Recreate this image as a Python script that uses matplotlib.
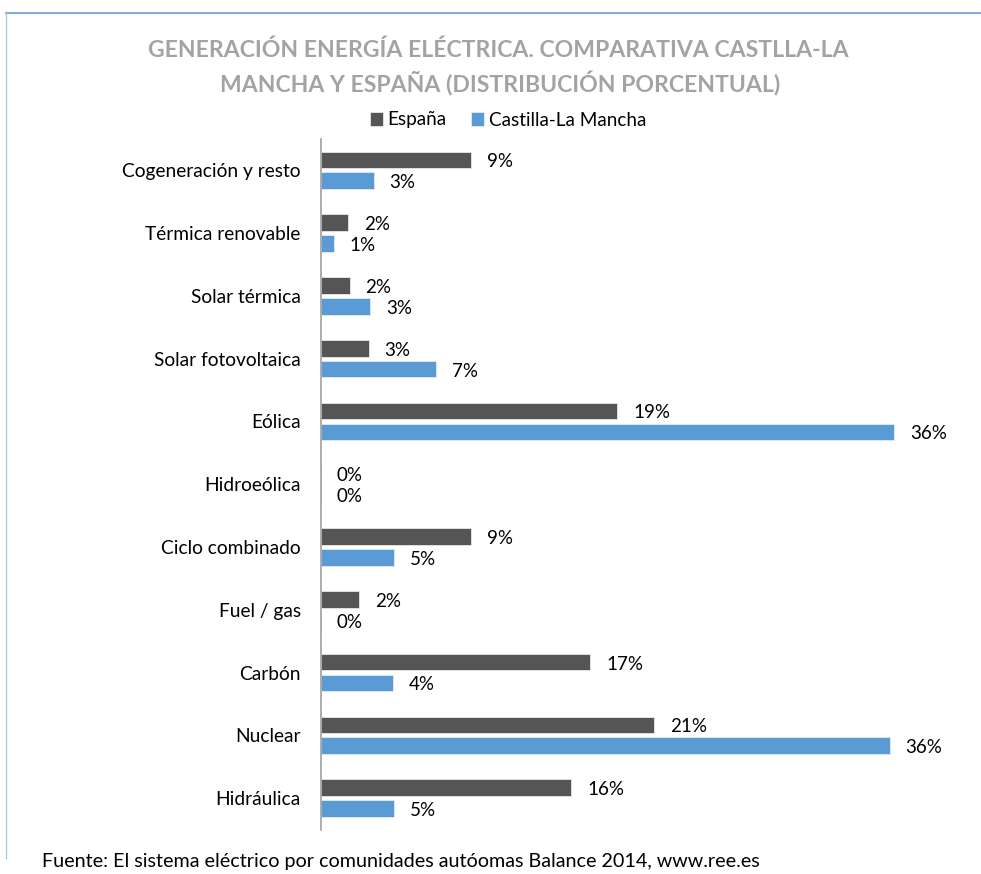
import matplotlib
matplotlib.use("Agg")
import matplotlib.pyplot as plt
import numpy as np

plt.rcParams["font.family"] = ["Lato", "DejaVu Sans"]

# ---------------------------------------------------------------------------
# data (percent share of electricity generation, 2014)
# ---------------------------------------------------------------------------
categorias = [
    "Cogeneración y resto", "Térmica renovable", "Solar térmica",
    "Solar fotovoltaica", "Eólica", "Hidroeólica", "Ciclo combinado",
    "Fuel / gas", "Carbón", "Nuclear", "Hidráulica",
]
espana = [9.4, 1.7, 1.8, 3.0, 18.6, 0.0, 9.4, 2.4, 16.9, 20.9, 15.7]
clm = [3.3, 0.8, 3.1, 7.2, 36.0, 0.0, 4.6, 0.0, 4.5, 35.7, 4.6]

COL_ESP = "#555555"
COL_CLM = "#5B9BD5"
COL_TITLE = "#A3A3A3"

W, H = 981, 874
fig = plt.figure(figsize=(W / 100, H / 100), dpi=100)

# outer frame (thin blue border, clipped at right/bottom like the source)
fig.add_artist(plt.Line2D([6 / W, 1.0], [1 - 12.5 / H, 1 - 12.5 / H],
                          color="#7FAEDC", lw=1.5, transform=fig.transFigure))
fig.add_artist(plt.Line2D([6 / W, 6 / W], [1 - 12.5 / H, 1 - 858 / H],
                          color="#A9C8E8", lw=1.0, transform=fig.transFigure))

ax = fig.add_axes([321 / W, 1 - 829.5 / H, (958 - 321) / W, (829.5 - 139) / H])

y = np.arange(len(categorias))
bh = 0.265
off = 0.166
ax.barh(y - off, espana, height=bh, color=COL_ESP, edgecolor="#E8E8E8",
        linewidth=0.6, label="España")
ax.barh(y + off, clm, height=bh, color=COL_CLM, edgecolor="#E0ECF8",
        linewidth=0.6, label="Castilla-La Mancha")

ax.set_xlim(0, 40)
ax.set_ylim(len(categorias) - 0.5, -0.5)

# data labels right of each bar
pad = 1.0  # in data units (~16 px)
for i in range(len(categorias)):
    ax.text(espana[i] + pad, y[i] - off + 0.03, f"{espana[i]:.0f}%",
            va="center", ha="left", fontsize=13.5, color="#000000")
    ax.text(clm[i] + pad, y[i] + off + 0.03, f"{clm[i]:.0f}%",
            va="center", ha="left", fontsize=13.5, color="#000000")

ax.set_yticks(y)
ax.set_yticklabels(categorias, fontsize=13.8)
ax.tick_params(axis="y", length=0, pad=14.5)
ax.set_xticks([])
for s in ["top", "right", "bottom"]:
    ax.spines[s].set_visible(False)
ax.spines["left"].set_color("#A0A0A0")
ax.spines["left"].set_linewidth(1.2)

fig.text(498 / W, 1 - 50 / H,
         "GENERACIÓN ENERGÍA ELÉCTRICA. COMPARATIVA CASTLLA-LA",
         ha="center", va="center", fontsize=16.6, fontweight="bold", color=COL_TITLE)
fig.text(500 / W, 1 - 84 / H,
         "MANCHA Y ESPAÑA (DISTRIBUCIÓN PORCENTUAL)",
         ha="center", va="center", fontsize=16.6, fontweight="bold", color=COL_TITLE)

leg = fig.legend(loc="center", bbox_to_anchor=(508 / W, 1 - 120 / H), ncol=2,
                 frameon=False, fontsize=13.6, handlelength=0.7, handleheight=0.7,
                 handletextpad=0.25, columnspacing=1.3)

fig.text(42 / W, 1 - 862 / H,
         "Fuente: El sistema eléctrico por comunidades autóomas Balance 2014, www.ree.es",
         ha="left", va="center", fontsize=14.2, color="#000000")

fig.savefig("out.png", dpi=100)
